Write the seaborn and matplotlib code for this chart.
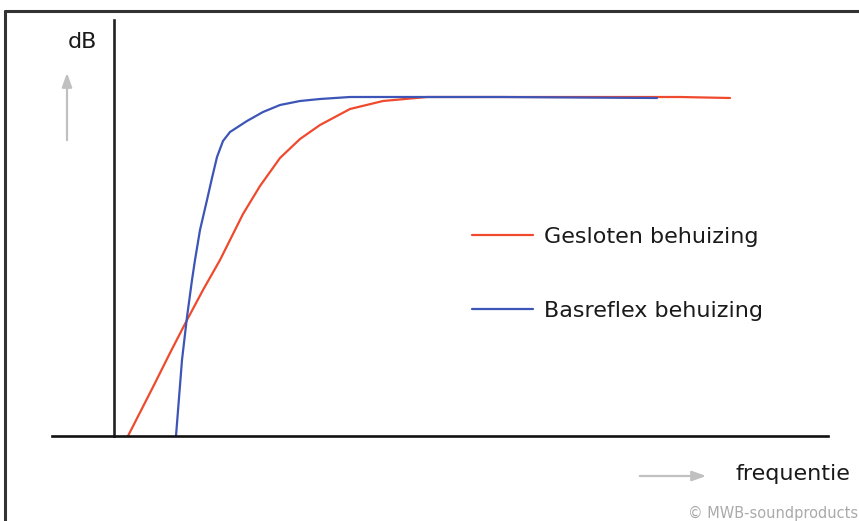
import matplotlib
matplotlib.use("Agg")
import matplotlib.pyplot as plt
import seaborn as sns
import pandas as pd
from matplotlib.lines import Line2D

# Data (arbitrary units: frequency -> level)
freq_gesloten = [76, 101, 118, 135, 151, 168, 191, 208, 228, 248, 268, 298, 331, 375, 448, 548, 628, 678]
db_gesloten = [0, 49, 83, 116, 146, 176, 222, 250, 278, 297, 311, 327, 335, 339, 339, 339, 339, 338]
freq_basreflex = [124, 130, 135, 140, 143, 148, 155, 160, 165, 171, 178, 195, 211, 228, 248, 268, 298, 331, 448, 605]
db_basreflex = [0, 76, 119, 156, 176, 206, 236, 258, 279, 295, 304, 315, 324, 331, 335, 337, 339, 339, 339, 338]

label_gesloten = "Gesloten behuizing"
label_basreflex = "Basreflex behuizing"

df = pd.concat([
    pd.DataFrame({"frequentie": freq_gesloten, "dB": db_gesloten, "behuizing": label_gesloten}),
    pd.DataFrame({"frequentie": freq_basreflex, "dB": db_basreflex, "behuizing": label_basreflex}),
], ignore_index=True)

sns.set_theme(style="white")
plt.rcParams["font.family"] = ["DejaVu Sans"]

W, H = 859, 521
fig = plt.figure(figsize=(W / 100, H / 100), dpi=100)
fig.patch.set_facecolor("white")
ax = fig.add_axes([52 / W, (H - 436) / H, 776 / W, 416 / H])

palette = {label_gesloten: "#f04a2e", label_basreflex: "#3d55b6"}
sns.lineplot(data=df, x="frequentie", y="dB", hue="behuizing", palette=palette,
             sort=False, estimator=None, linewidth=1.6, ax=ax,
             hue_order=[label_gesloten, label_basreflex])
for ln in ax.lines:
    ln.set_solid_joinstyle("round")

ax.set_xlim(0, 776)
ax.set_ylim(0, 416)
ax.set_xticks([])
ax.set_yticks([])
ax.set_xlabel("")
ax.set_ylabel("")
ax.set_facecolor("white")
for s in ["top", "right"]:
    ax.spines[s].set_visible(False)
ax.spines["bottom"].set_color("#111111")
ax.spines["bottom"].set_linewidth(1.9)
ax.spines["left"].set_color("#222222")
ax.spines["left"].set_linewidth(1.9)
ax.spines["left"].set_position(("axes", 62 / 776))

leg = ax.legend(loc="upper left", bbox_to_anchor=(472 / W, (H - 227) / H),
                bbox_transform=fig.transFigure, frameon=False, fontsize=16,
                handlelength=2.75, handletextpad=0.5, labelspacing=2.41,
                borderpad=0, borderaxespad=0)
for t in leg.get_texts():
    t.set_color("#1a1a1a")

# Axis captions
fig.text(82 / W, 1 - 42 / H, "dB", ha="center", va="center", fontsize=16, color="#1a1a1a")
fig.text(793 / W, 1 - 474 / H, "frequentie", ha="center", va="center", fontsize=16, color="#1a1a1a")
fig.text(688 / W, 1 - 513 / H, "© MWB-soundproducts", ha="left", va="center", fontsize=10.5, color="#aaaaaa")

# Grey arrows
arrow_kw = dict(arrowstyle="-|>,head_length=0.7,head_width=0.25", color="#c0c0c0", lw=1.6)
ax.annotate("", xy=(67, H - 70), xytext=(67, H - 143), xycoords="figure pixels",
            textcoords="figure pixels", arrowprops=arrow_kw, annotation_clip=False)
ax.annotate("", xy=(709, H - 476), xytext=(637, H - 476), xycoords="figure pixels",
            textcoords="figure pixels", arrowprops=arrow_kw, annotation_clip=False)

# Outer frame (top and left edges)
fig.add_artist(Line2D([5 / W, 5 / W], [0, 1 - 11 / H], transform=fig.transFigure, color="#333333", lw=2.2))
fig.add_artist(Line2D([5 / W, 1], [1 - 11 / H, 1 - 11 / H], transform=fig.transFigure, color="#333333", lw=2.2))

fig.savefig("out.png", dpi=100, facecolor="white")
